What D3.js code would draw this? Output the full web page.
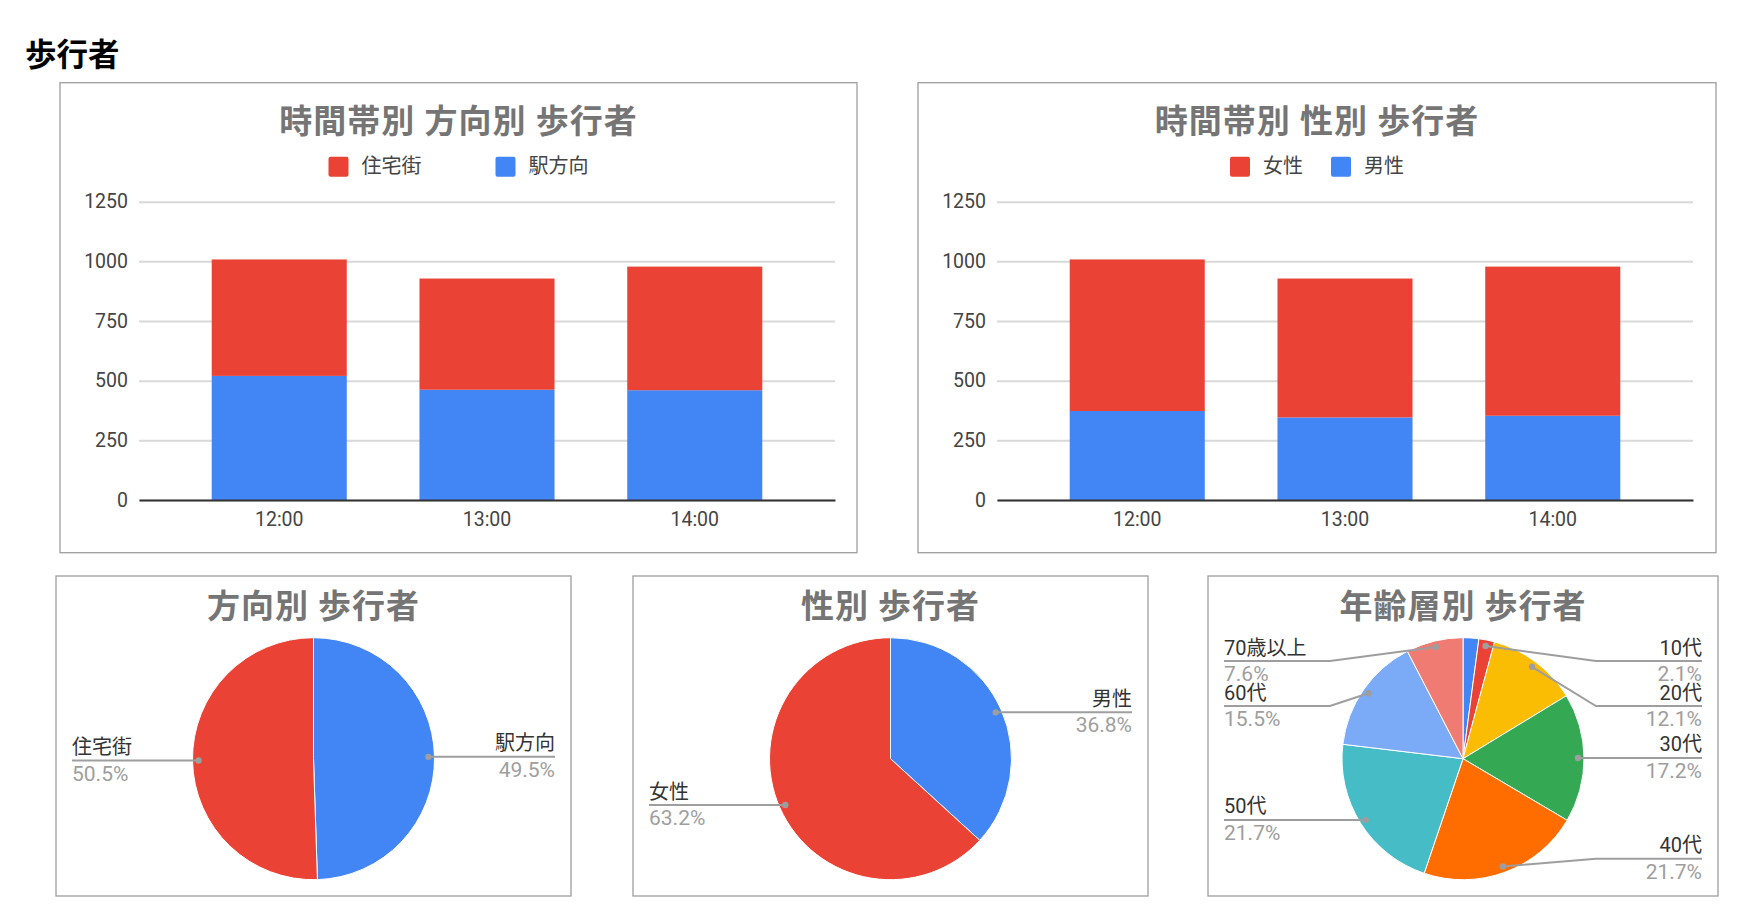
<!DOCTYPE html>
<html lang="ja">
<head>
<meta charset="utf-8">
<script src="https://cdn.jsdelivr.net/npm/d3@7"></script>
<style>
  body { margin: 0; background: #fff; }
  svg text { font-family: Roboto, "Noto Sans CJK JP", sans-serif; }
</style>
</head>
<body>
<svg id="page" width="1760" height="911"></svg>
<script>
// ---- data ----
const timeSlots = ['12:00', '13:00', '14:00'];
const yTicks = [0, 250, 500, 750, 1000, 1250];

const residential = [488, 466, 518]; // 住宅街
const station = [520, 462, 460];     // 駅方向
const female = [635, 582, 625];      // 女性
const male = [373, 346, 353];        // 男性

// first slice has no label in the original chart
const ageGroups = ['', '10代', '20代', '30代', '40代', '50代', '60代', '70歳以上'];
const agePercent = [2.1, 2.1, 12.1, 17.2, 21.7, 21.7, 15.5, 7.6];

const RED = '#ea4335';
const BLUE = '#4285f4';
const agePalette = ['#4285f4', '#ea4335', '#fbbc04', '#34a853', '#ff6d01', '#46bdc6', '#7baaf7', '#f07b72'];

const svg = d3.select('#page');

svg.append('text')
  .attr('x', 25)
  .attr('y', 66)
  .attr('font-size', 31.5)
  .attr('font-weight', 700)
  .attr('fill', '#000')
  .text('歩行者');

function frame(box) {
  const g = svg.append('g').attr('transform', `translate(${box.x},${box.y})`);
  g.append('rect')
    .attr('width', box.w)
    .attr('height', box.h)
    .attr('fill', '#fff')
    .attr('stroke', '#9e9e9e')
    .attr('stroke-width', 1.3);
  return g;
}

function chartTitle(g, box, text, baseline) {
  g.append('text')
    .attr('x', box.w / 2)
    .attr('y', baseline)
    .attr('text-anchor', 'middle')
    .attr('font-size', 33)
    .attr('letter-spacing', 1)
    .attr('font-weight', 700)
    .attr('fill', '#757575')
    .text(text);
}

// stacked columns, series listed bottom first
function stackedChart(box, title, series, legendGap) {
  const g = frame(box);
  chartTitle(g, box, title, 50.5);

  const x = d3.scaleBand()
    .domain(timeSlots)
    .range([79, 775])
    .paddingInner(0.35)
    .paddingOuter(0.35);

  const y = d3.scaleLinear()
    .domain([0, 1250])
    .range([417.3, 119]);

  // legend, top series first, centred
  const legend = g.append('g');
  let lx = 0;
  series.slice().reverse().forEach((s, i) => {
    if (i) lx += legendGap;
    legend.append('rect')
      .attr('x', lx).attr('y', 74)
      .attr('width', 20).attr('height', 20)
      .attr('rx', 2)
      .attr('fill', s.color);
    const t = legend.append('text')
      .attr('x', lx + 33).attr('y', 90.5)
      .attr('font-size', 20)
      .attr('fill', '#444')
      .text(s.name);
    lx += 33 + t.node().getComputedTextLength();
  });
  legend.attr('transform', `translate(${box.w / 2 - lx / 2},0)`);

  // grid + y labels
  const yAxis = g.append('g')
    .attr('transform', 'translate(79,0)')
    .call(d3.axisLeft(y)
      .tickValues(yTicks)
      .tickFormat(d3.format('d'))
      .tickSize(-(775 - 79))
      .tickPadding(11));
  yAxis.select('.domain').remove();
  yAxis.selectAll('line').attr('stroke', '#d9d9d9').attr('stroke-width', 2);
  yAxis.selectAll('text')
    .attr('font-size', 19.5)
    .attr('fill', '#444')
    .attr('font-family', 'Roboto, sans-serif');

  const rows = timeSlots.map((slot, j) => {
    const row = { slot };
    series.forEach(s => { row[s.name] = s.values[j]; });
    return row;
  });
  const layers = d3.stack().keys(series.map(s => s.name))(rows);

  g.append('g')
    .selectAll('g')
    .data(layers)
    .join('g')
    .attr('fill', (d, i) => series[i].color)
    .selectAll('rect')
    .data(d => d)
    .join('rect')
    .attr('x', d => x(d.data.slot))
    .attr('y', d => y(d[1]))
    .attr('width', x.bandwidth())
    .attr('height', d => y(d[0]) - y(d[1]));

  // baseline + x labels
  const xAxis = g.append('g')
    .attr('transform', `translate(0,${y(0)})`)
    .call(d3.axisBottom(x).tickSize(0));
  xAxis.select('.domain').attr('stroke', '#333').attr('stroke-width', 2);
  xAxis.selectAll('text')
    .attr('y', 26)
    .attr('dy', 0)
    .attr('font-size', 19.5)
    .attr('fill', '#444')
    .attr('font-family', 'Roboto, sans-serif');
}

function pieChart(box, title, items) {
  const g = frame(box);
  chartTitle(g, box, title, 42);

  const cx = box.w / 2, cy = 182.7, r = 121;
  const total = d3.sum(items, d => d.value);
  const arcs = d3.pie().sort(null).value(d => d.value)(items);

  g.append('g')
    .attr('transform', `translate(${cx},${cy})`)
    .selectAll('path')
    .data(arcs)
    .join('path')
    .attr('d', d3.arc().innerRadius(0).outerRadius(r))
    .attr('fill', d => d.data.color)
    .attr('stroke', '#fff')
    .attr('stroke-width', 1);

  const labels = arcs.filter(a => a.data.name).map(a => {
    const m = (a.startAngle + a.endAngle) / 2;
    return {
      a,
      right: m < Math.PI,
      px: cx + Math.sin(m) * r * 0.95,
      py: cy - Math.cos(m) * r * 0.95
    };
  });

  // push labels apart on each side
  const gap = 45, minY = cy - 97.7, maxY = cy + 100;
  [true, false].forEach(side => {
    const list = labels.filter(d => d.right === side).sort((p, q) => p.py - q.py);
    list.forEach((d, i) => {
      d.ly = Math.max(d.py, minY, i ? list[i - 1].ly + gap : -Infinity);
    });
    for (let i = list.length - 1; i >= 0; i--) {
      list[i].ly = Math.min(list[i].ly, maxY, i < list.length - 1 ? list[i + 1].ly - gap : Infinity);
    }
  });

  const lg = g.append('g');
  labels.forEach(d => {
    const elbowX = d.right ? cx + r + 12 : cx - r - 12;
    const endX = d.right ? box.w - 16 : 16;
    lg.append('path')
      .attr('d', d3.line()([[d.px, d.py], [elbowX, d.ly], [endX, d.ly]]))
      .attr('fill', 'none')
      .attr('stroke', '#9e9e9e')
      .attr('stroke-width', 2);
    lg.append('circle')
      .attr('cx', d.px).attr('cy', d.py)
      .attr('r', 3.2)
      .attr('fill', '#9e9e9e');
    lg.append('text')
      .attr('x', endX).attr('y', d.ly - 6.5)
      .attr('text-anchor', d.right ? 'end' : 'start')
      .attr('font-size', 20)
      .attr('fill', '#333')
      .text(d.a.data.name);
    lg.append('text')
      .attr('x', endX).attr('y', d.ly + 20)
      .attr('text-anchor', d.right ? 'end' : 'start')
      .attr('font-size', 21)
      .attr('fill', '#9e9e9e')
      .text(d3.format('.1%')(d.a.data.value / total));
  });
}

// ---- charts ----
stackedChart({ x: 60, y: 82.7, w: 797, h: 470 }, '時間帯別 方向別 歩行者', [
  { name: '駅方向', values: station, color: BLUE },
  { name: '住宅街', values: residential, color: RED }
], 74);

stackedChart({ x: 918, y: 82.7, w: 798, h: 470 }, '時間帯別 性別 歩行者', [
  { name: '男性', values: male, color: BLUE },
  { name: '女性', values: female, color: RED }
], 28);

pieChart({ x: 56, y: 576, w: 515, h: 320 }, '方向別 歩行者', [
  { name: '駅方向', value: d3.sum(station), color: BLUE },
  { name: '住宅街', value: d3.sum(residential), color: RED }
]);

pieChart({ x: 633, y: 576, w: 515, h: 320 }, '性別 歩行者', [
  { name: '男性', value: d3.sum(male), color: BLUE },
  { name: '女性', value: d3.sum(female), color: RED }
]);

pieChart({ x: 1208, y: 576, w: 510, h: 320 }, '年齢層別 歩行者',
  ageGroups.map((name, i) => ({ name, value: agePercent[i], color: agePalette[i] })));
</script>
</body>
</html>
